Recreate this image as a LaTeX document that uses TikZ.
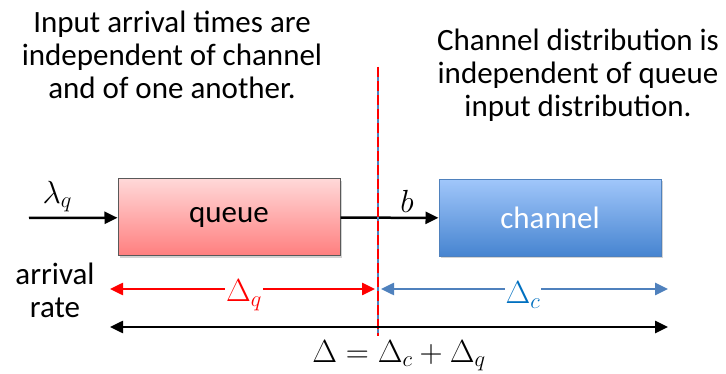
\RequirePackage{fix-cm}
\documentclass[tikz,border=0pt]{standalone}
\usepackage{fontspec}
\setmainfont{Carlito}
\usetikzlibrary{arrows.meta,positioning,shadows}
\definecolor{QRed}{RGB}{255,0,0}
\definecolor{QTop}{RGB}{255,216,216}
\definecolor{QBot}{RGB}{255,126,126}
\definecolor{CBlue}{RGB}{79,129,189}
\definecolor{CText}{RGB}{0,112,192}
\definecolor{CTop}{RGB}{160,198,250}
\definecolor{CBot}{RGB}{70,132,208}

\begin{document}
\begin{tikzpicture}[x=1pt,y=-1pt, every node/.style={font=\fontsize{31}{33}\selectfont},
 box/.style={minimum width=222pt,minimum height=77pt,line width=1pt,drop shadow={shadow xshift=2pt,shadow yshift=-2pt,opacity=0.35}},
 arr/.style={-{Triangle[length=13pt,width=12pt]},line width=2.5pt},
 dim/.style={{Triangle[length=13pt,width=12pt]}-{Triangle[length=13pt,width=12pt]},line width=2.5pt},
 lbl/.style={fill=white,inner sep=1pt,font=\fontsize{32}{33}\selectfont}]
\useasboundingbox (0,0) rectangle (726,374);
% text blocks
\node[align=center] (ta) at (172,55) {Input arrival times are\\independent of channel\\and of one another.};
\node[align=center] (tb) at (578,75) {Channel distribution is\\independent of queue\\input distribution.};
\node[align=center] (ar) at (55,290) {arrival\\rate};
% the two stages
\node[box,draw=black!65,top color=QTop,bottom color=QBot] (q) at (229,217.5) {queue};
\node[box,draw=CBlue,top color=CTop,bottom color=CBot,text=white] (c) at (550,218) {channel};
\coordinate (in) at (29,218);
\draw[arr] (in) -- node[above=1pt,pos=0.32,font=\fontsize{32}{33}\selectfont] {$\lambda_q$} (q);
\draw[arr] (q) -- node[above=1pt,pos=0.68,font=\fontsize{32}{33}\selectfont] {$b$} (c);
% split line
\coordinate (st) at (378,67);
\coordinate (sb) at (378,336);
\draw[CBlue,line width=1.5pt] (st) -- (sb);
\draw[QRed,line width=1.5pt,dash pattern=on 10pt off 4pt] (st) -- (sb);
% delays
\coordinate (dl) at (110,289);
\coordinate (dm) at (378,289);
\coordinate (dr) at (668,289);
\coordinate (el) at (110,327);
\coordinate (er) at (668,327);
\draw[dim,QRed,shorten >=3pt] (dl) -- node[lbl,text=QRed,yshift=-6pt] {$\Delta_q$} (dm);
\draw[dim,CBlue,shorten <=3pt] (dm) -- node[lbl,text=CText,yshift=-6pt] {$\Delta_c$} (dr);
\draw[dim] (el) -- (er);
\node[lbl,below=0pt of sb,inner sep=2pt,xshift=21pt,yshift=-2pt] (sum) {$\Delta=\Delta_c+\Delta_q$};
\end{tikzpicture}
\end{document}
